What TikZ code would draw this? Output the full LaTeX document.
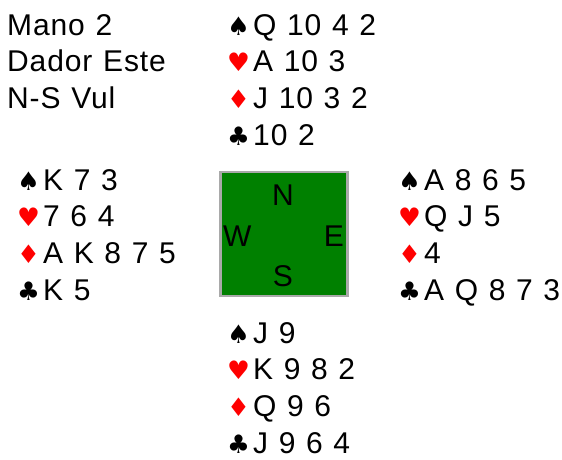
\documentclass[tikz,border=0pt]{standalone}
\usepackage{fontspec}
\setmainfont[LetterSpace=3,WordSpace=1.15]{Liberation Sans}
\newfontfamily\suitfont{DejaVu Sans}
\usepackage{tikz}
\usetikzlibrary{positioning}
\definecolor{felt}{RGB}{0,128,0}
\definecolor{rim}{RGB}{169,169,169}
\definecolor{suitred}{RGB}{255,0,0}
% suit symbols in a fixed-width box
\newcommand\suitbox[2]{\makebox[26pt][l]{\suitfont\fontsize{25.5}{25.5}\selectfont\color{#1}#2}}
\newcommand\Sp{\suitbox{black}{♠}}
\newcommand\He{\suitbox{suitred}{♥}}
\newcommand\Di{\suitbox{suitred}{♦}}
\newcommand\Cl{\suitbox{black}{♣}}
\begin{document}
\begin{tikzpicture}[x=1pt,y=-1pt,
  hand/.style={anchor=base west,inner sep=0pt,align=left,
    font=\fontsize{30}{36.8}\selectfont},
  seat/.style={inner sep=0pt,font=\fontsize{30}{36}\selectfont}]
\useasboundingbox (0,0) rectangle (562,459);
% table
\draw[rim,line width=2.4pt,fill=felt] (220.5,172.2) rectangle (347.5,295.8);
\node[seat,anchor=base] (n) at (283,205){N};
\node[seat,anchor=base west] (w) at (223,246){W};
\node[seat,anchor=base east] (e) at (344,246){E};
\node[seat,anchor=base] (s) at (283,286){S};
% deal info (anchored on the baseline of the last line)
\node[hand] (info) at (7,108.6){Mano 2\\Dador Este\\N-S Vul};
% hands
\node[hand] (north) at (227,145.4){\Sp Q 10 4 2\\\He A 10 3\\\Di J 10 3 2\\\Cl 10 2};
\node[hand] (west) at (17,300.4){\Sp K 7 3\\\He 7 6 4\\\Di A K 8 7 5\\\Cl K 5};
\node[hand] (east) at (398,300.4){\Sp A 8 6 5\\\He Q J 5\\\Di 4\\\Cl A Q 8 7 3};
\node[hand] (south) at (227,453.4){\Sp J 9\\\He K 9 8 2\\\Di Q 9 6\\\Cl J 9 6 4};
\end{tikzpicture}
\end{document}
